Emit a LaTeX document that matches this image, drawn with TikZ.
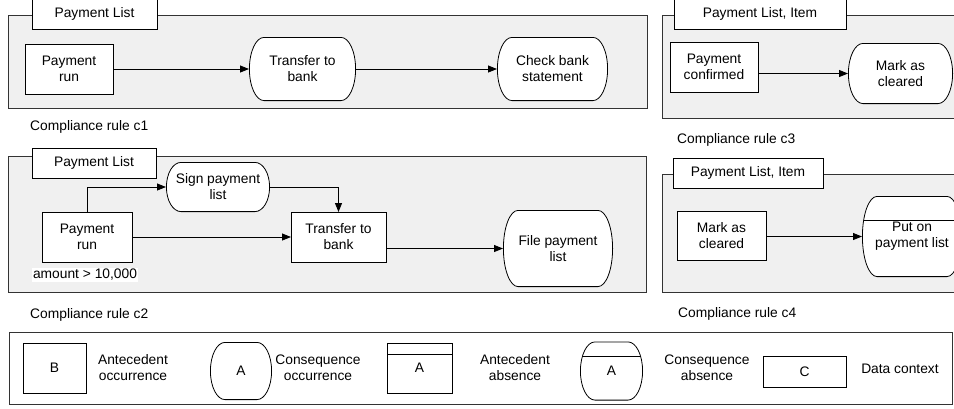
\documentclass[tikz,border=0pt]{standalone}
\usepackage{fontspec}
\setmainfont{Liberation Sans}
\usepackage{tikz}
\usetikzlibrary{arrows.meta,calc}
\tikzset{
  panel/.style   = {draw=black!80, fill=black!6, line width=1pt},
  ctxbox/.style  = {shape=rectangle, draw, fill=white, line width=0.8pt,
                    inner sep=0pt, outer sep=0pt},
  antbox/.style  = {shape=rectangle, draw, fill=white, line width=0.8pt,
                    align=center, inner sep=0pt, outer sep=0pt},
  conbox/.style  = {shape=rectangle, align=center, inner sep=0pt, outer sep=0pt,
                    path picture={
                      \draw[line width=0.8pt, fill=white]
                        let \p1 = (path picture bounding box.north east),
                            \p2 = (path picture bounding box.south west) in
                        ([xshift=15pt,yshift=-0.4pt]path picture bounding box.north west)
                        -- ([xshift=-15pt,yshift=-0.4pt]path picture bounding box.north east)
                        arc[start angle=90, end angle=-90, x radius=14.6pt, y radius={(\y1-\y2)/2-0.4pt}]
                        -- ([xshift=15pt,yshift=0.4pt]path picture bounding box.south west)
                        arc[start angle=-90, end angle=-270, x radius=14.6pt, y radius={(\y1-\y2)/2-0.4pt}]
                        -- cycle;
                    }},
  rulelabel/.style = {anchor=base west, inner sep=0pt},
  flow/.style    = {line width=0.8pt, -{Triangle[length=9pt,width=7pt]}}
}

\begin{document}
\begin{tikzpicture}
  [
    x=1pt, y=-1pt,
    every node/.style = {font=\fontsize{13.8}{16}\selectfont}
  ]
  \clip[use as bounding box] (0,0) rectangle (954,408);

  % compliance rule c1
  \draw[panel] (8,15) rectangle (647,108);
  \node[ctxbox, minimum width=125pt, minimum height=31pt] (tab1) at (94.5,13.5) {Payment List};
  \node[antbox, minimum width=88pt, minimum height=50pt] (pay1) at (69,69) {Payment\\run};
  \node[conbox, minimum width=107pt, minimum height=64pt] (tra1) at (302.5,69) {Transfer to\\bank};
  \node[conbox, minimum width=111pt, minimum height=64pt] (chk1) at (552.5,69) {Check bank\\statement};
  \draw[flow] (pay1) -- (tra1);
  \draw[flow] (tra1) -- (chk1);
  \node[rulelabel] (rule1) at (30,130) {Compliance rule c1};

  % compliance rule c3
  \draw[panel] (662,15) rectangle (962,118);
  \node[ctxbox, minimum width=172pt, minimum height=31pt] (tab3) at (760,13.5) {Payment List, Item};
  \node[antbox, minimum width=88pt, minimum height=50pt] (conf3) at (714,67) {Payment\\confirmed};
  \node[conbox, minimum width=105pt, minimum height=61pt] (mark3) at (900.5,73.5) {Mark as\\cleared};
  \draw[flow] (conf3.east |- mark3.west) -- (mark3.west);
  \node[rulelabel] (rule3) at (677,143) {Compliance rule c3};

  % compliance rule c2
  \draw[panel] (8,156) rectangle (646,292);
  \node[ctxbox, minimum width=124pt, minimum height=30pt] (tab2) at (94,163) {Payment List};
  \node[conbox, minimum width=104pt, minimum height=50pt] (sign2) at (218,187) {Sign payment\\list};
  \node[antbox, minimum width=90pt, minimum height=50pt] (pay2) at (87,237) {Payment\\run};
  \node[antbox, minimum width=95pt, minimum height=50pt] (tra2) at (338.5,237) {Transfer to\\bank};
  \node[conbox, minimum width=110pt, minimum height=77pt] (file2) at (558,248.5) {File payment\\list};
  \node[fill=white, inner sep=1pt] (cond2) at (85,275) {amount > 10,000};
  \draw[flow] (pay2.north) |- (sign2.west);
  \draw[flow] (sign2.east) -| (tra2.north);
  \draw[flow] (pay2) -- (tra2);
  \draw[flow] (tra2.east |- file2.west) -- (file2.west);
  \node[rulelabel] (rule2) at (30,318) {Compliance rule c2};

  % compliance rule c4
  \draw[panel] (662,174) rectangle (962,292);
  \node[ctxbox, minimum width=150pt, minimum height=30pt] (tab4) at (748,173) {Payment List, Item};
  \node[antbox, minimum width=89pt, minimum height=49pt] (mark4) at (721.5,236) {Mark as\\cleared};
  \node[conbox, minimum width=100pt, minimum height=81pt] (put4) at (912,236.5) {Put on\\payment list};
  \draw[line width=0.8pt] ([shift={(1.5pt,-24pt)}]put4.north west) -- ([shift={(-1.5pt,-24pt)}]put4.north east);
  \draw[flow] (mark4.east |- put4.west) -- (put4.west);
  \node[rulelabel] (rule4) at (678,317) {Compliance rule c4};

  % legend
  \draw[line width=1pt, draw=black!80] (9,332) rectangle (952,404);
  \node[antbox, minimum width=63pt, minimum height=50pt] (legB) at (54.5,368) {B};
  \node[align=center] (legBt) at (133,368) {Antecedent\\occurrence};
  \node[conbox, minimum width=62pt, minimum height=58pt] (legA) at (241,371) {A};
  \node[align=center] (legAt) at (318,368) {Consequence\\occurrence};
  \node[antbox, minimum width=65pt, minimum height=50pt] (legAA) at (419.5,368) {A};
  \draw[line width=0.8pt] ([yshift=-11pt]legAA.north west) -- ([yshift=-11pt]legAA.north east);
  \node[align=center] (legAAt) at (515,368) {Antecedent\\absence};
  \node[conbox, minimum width=63pt, minimum height=59pt] (legCA) at (611.5,371) {A};
  \draw[line width=0.8pt] ([shift={(2pt,-15pt)}]legCA.north west) -- ([shift={(-2pt,-15pt)}]legCA.north east);
  \node[align=center] (legCAt) at (707,368) {Consequence\\absence};
  \node[antbox, minimum width=83pt, minimum height=31pt] (legC) at (804.5,371.5) {C};
  \node (legCt) at (900,369) {Data context};
\end{tikzpicture}
\end{document}
